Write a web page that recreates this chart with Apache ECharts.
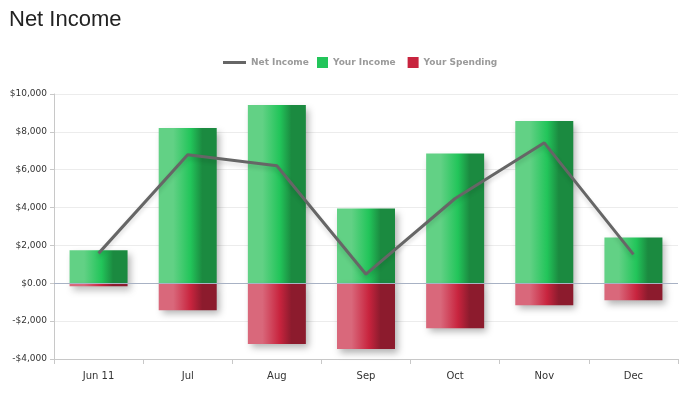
<!DOCTYPE html>
<html>
<head>
<meta charset="utf-8">
<script src="https://cdn.jsdelivr.net/npm/echarts@6/dist/echarts.min.js"></script>
<style>
  html, body { margin: 0; padding: 0; background: #fff; }
  #chart { width: 695px; height: 397px; }
</style>
</head>
<body>
<div id="chart"></div>
<script>
  // months
  var months = ['Jun 11', 'Jul', 'Aug', 'Sep', 'Oct', 'Nov', 'Dec']
  var yourIncome = [1740, 8210, 9420, 3950, 6850, 8580, 2420]
  var yourSpending = [-160, -1420, -3210, -3470, -2370, -1160, -890]
  var netIncome = [1580, 6790, 6210, 480, 4480, 7420, 1530]

  function money(v) {
    if (v === 0) return '$0.00'
    var s = Math.abs(v).toString().replace(/\B(?=(\d{3})+(?!\d))/g, ',')
    return (v < 0 ? '-$' : '$') + s
  }

  function hGrad(a, b, c) {
    return new echarts.graphic.LinearGradient(0, 0, 1, 0, [
      { offset: 0, color: a },
      { offset: 0.25, color: a },
      { offset: 0.55, color: b },
      { offset: 0.75, color: c },
      { offset: 1, color: c }
    ])
  }

  var legendText = { fontFamily: 'DejaVu Sans', fontSize: 9, fontWeight: 'bold', color: '#9a9a9a' }

  var chart = echarts.init(document.getElementById('chart'))
  var option = {
    backgroundColor: '#fff',
    animation: false,
    title: {
      text: 'Net Income',
      left: 4,
      top: 4,
      textStyle: { fontFamily: 'Liberation Sans', fontSize: 22, fontWeight: 'normal', color: '#222' }
    },
    legend: [
      {
        top: 53,
        left: 218,
        itemWidth: 23,
        itemHeight: 3,
        textStyle: legendText,
        data: [{ name: 'Net Income', icon: 'rect', itemStyle: { color: '#666' } }]
      },
      {
        top: 52,
        left: 312,
        itemWidth: 11,
        itemHeight: 11,
        itemGap: 12,
        textStyle: legendText,
        data: [
          { name: 'Your Income', icon: 'rect', itemStyle: { color: '#22c55a' } },
          { name: 'Your Spending', icon: 'rect', itemStyle: { color: '#c8243e' } }
        ]
      }
    ],
    grid: { left: 54, right: 17, top: 94, bottom: 38 },
    xAxis: {
      type: 'category',
      data: months,
      axisLine: { onZero: false, lineStyle: { color: '#c8c8c8' } },
      axisTick: { show: true, length: 5, lineStyle: { color: '#c8c8c8' } },
      axisLabel: { color: '#333', fontFamily: 'DejaVu Sans', fontSize: 10, margin: 12 }
    },
    yAxis: {
      type: 'value',
      min: -4000,
      max: 10000,
      interval: 2000,
      axisLine: { show: true, lineStyle: { color: '#c8c8c8' } },
      axisTick: { show: true, length: 4, lineStyle: { color: '#c8c8c8' } },
      axisLabel: { color: '#333', fontFamily: 'DejaVu Sans', fontSize: 9, margin: 7, formatter: money },
      splitLine: { lineStyle: { color: '#ececec' } }
    },
    series: [
      {
        name: 'Your Income',
        type: 'bar',
        stack: 'money',
        barWidth: 58,
        itemStyle: {
          color: hGrad('#62d185', '#22c55a', '#1b8a40'),
          shadowBlur: 7,
          shadowOffsetX: 3,
          shadowOffsetY: 4,
          shadowColor: 'rgba(0,0,0,0.3)'
        },
        markLine: {
          silent: true,
          symbol: 'none',
          label: { show: false },
          lineStyle: { color: '#a8b2c4', type: 'solid', width: 1 },
          data: [{ yAxis: 0 }]
        },
        data: yourIncome
      },
      {
        name: 'Your Spending',
        type: 'bar',
        stack: 'money',
        barWidth: 58,
        itemStyle: {
          color: hGrad('#d9687b', '#c8243e', '#8c1b2d'),
          shadowBlur: 7,
          shadowOffsetX: 3,
          shadowOffsetY: 4,
          shadowColor: 'rgba(0,0,0,0.3)'
        },
        data: yourSpending
      },
      {
        name: 'Net Income',
        type: 'line',
        z: 5,
        symbol: 'none',
        lineStyle: { color: '#666', width: 3, shadowBlur: 4, shadowOffsetY: 3, shadowColor: 'rgba(0,0,0,0.15)' },
        itemStyle: { color: '#666' },
        data: netIncome
      }
    ]
  }
  chart.setOption(option)
</script>
</body>
</html>
